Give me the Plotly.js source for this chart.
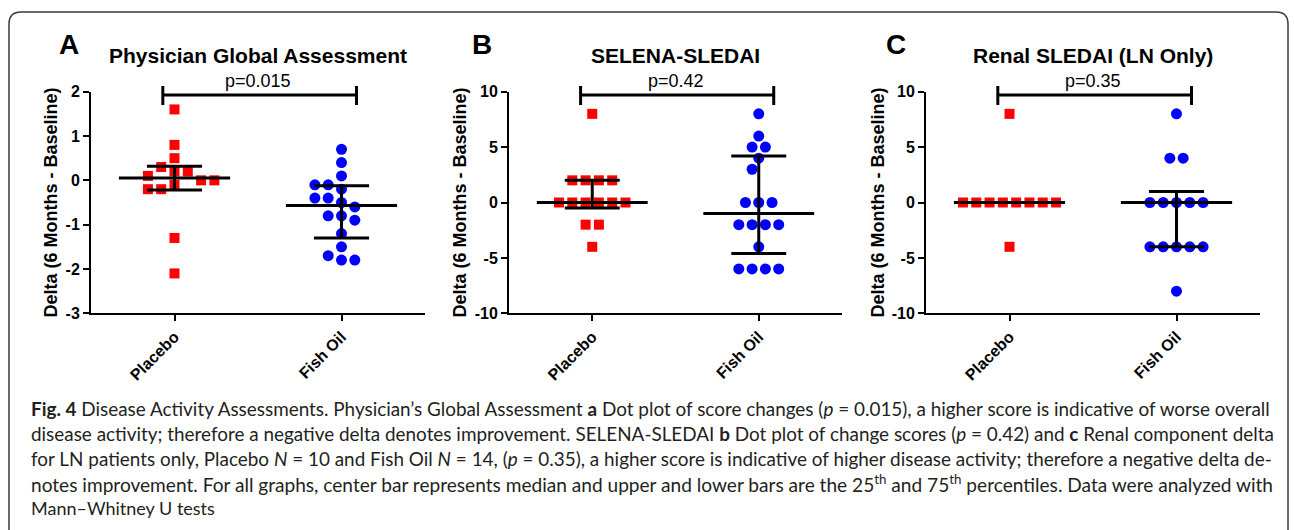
<!DOCTYPE html>
<html>
<head>
<meta charset="utf-8">
<script src="https://cdn.plot.ly/plotly-3.0.1.min.js"></script>
<style>
  html, body { margin: 0; padding: 0; background: #ffffff; }
  #chart { width: 1295px; height: 530px; }
</style>
</head>
<body>
<div id="chart"></div>
<script>
// ---------------- data ----------------
const categories = ['Placebo', 'Fish Oil'];
const panelLetters = ['A', 'B', 'C'];
const panelTitles = ['Physician Global Assessment', 'SELENA-SLEDAI', 'Renal SLEDAI (LN Only)'];
const pValueLabels = ['p=0.015', 'p=0.42', 'p=0.35'];
const yAxisTitle = 'Delta (6 Months - Baseline)';

const yTickValsA = [-3, -2, -1, 0, 1, 2];
const yTickTextA = ['-3', '-2', '-1', '0', '1', '2'];
const yTickValsBC = [-10, -5, 0, 5, 10];
const yTickTextBC = ['-10', '-5', '0', '5', '10'];
const yRangeA = [-3, 2];
const yRangeBC = [-10, 10];

// Panel A: Physician Global Assessment
const placeboA = [1.6, 0.8, 0.5, 0.3, 0.2, 0.2, 0.1, 0, 0, -0.1, -0.2, -0.2, -1.3, -2.1];
const fishOilA = [0.7, 0.4, 0.1, -0.1, -0.1, -0.2, -0.4, -0.4, -0.5, -0.6, -0.8, -0.8, -0.9, -1.2, -1.5, -1.7, -1.8, -1.8];
const medianA = [0.05, -0.57];
const q1A = [-0.22, -1.3];
const q3A = [0.32, -0.12];

// Panel B: SELENA-SLEDAI
const placeboB = [8, 2, 2, 2, 2, 0, 0, 0, 0, 0, 0, -2, -2, -4];
const fishOilB = [8, 6, 5, 5, 4, 3, 0, 0, 0, -2, -2, -2, -2, -4, -6, -6, -6, -6];
const medianB = [0, -1];
const q1B = [-0.5, -4.6];
const q3B = [2, 4.2];

// Panel C: Renal SLEDAI (LN only)
const placeboC = [8, 0, 0, 0, 0, 0, 0, 0, 0, -4];
const fishOilC = [8, 4, 4, 0, 0, 0, 0, 0, -4, -4, -4, -4, -4, -8];
const medianC = [0, 0];
const q1C = [0, -4];
const q3C = [0, 1];

const captionLines = [
  '<b>Fig. 4</b> Disease Activity Assessments. Physician\u2019s Global Assessment <b>a</b> Dot plot of score changes (<i>p</i> = 0.015), a higher score is indicative of worse overall',
  'disease activity; therefore a negative delta denotes improvement. SELENA-SLEDAI <b>b</b> Dot plot of change scores (<i>p</i> = 0.42) and <b>c</b> Renal component delta',
  'for LN patients only, Placebo <i>N</i> = 10 and Fish Oil <i>N</i> = 14, (<i>p</i> = 0.35), a higher score is indicative of higher disease activity; therefore a negative delta de-',
  'notes improvement. For all graphs, center bar represents median and upper and lower bars are the 25<sup>th</sup> and 75<sup>th</sup> percentiles. Data were analyzed with',
  'Mann\u2013Whitney U tests'
];

// ---------------- layout geometry ----------------
const W = 1295, H = 530;
const px2x = p => p / W;
const px2y = p => 1 - p / H;

const plotTop = 91.7, plotBottom = 313.3;
const panelX = [[91, 425], [509, 842], [926, 1260]];
const yTitleX = [51, 460, 878];
const letterX = [69, 482, 896];

const panels = [
  { placebo: placeboA, fish: fishOilA, med: medianA, q1: q1A, q3: q3A, range: yRangeA, tv: yTickValsA, tt: yTickTextA },
  { placebo: placeboB, fish: fishOilB, med: medianB, q1: q1B, q3: q3B, range: yRangeBC, tv: yTickValsBC, tt: yTickTextBC },
  { placebo: placeboC, fish: fishOilC, med: medianC, q1: q1C, q3: q3C, range: yRangeBC, tv: yTickValsBC, tt: yTickTextBC }
];

const FONT = 'Liberation Sans, Arial, Helvetica, sans-serif';
const CAP_FONT = 'Lato';
const SPACING_PX = 13.3; // centre-to-centre spacing of swarm points

// simple deterministic beeswarm: equal values are laid out as centred rows,
// rows are shifted sideways in half steps until they clear earlier points
function swarmOffsets(values, pxPerUnitY, pxPerCat) {
  const groups = [];
  const sorted = values.map((v, i) => ({ v, i })).sort((a, b) => b.v - a.v);
  sorted.forEach(p => {
    const g = groups.length ? groups[groups.length - 1] : null;
    if (g && Math.abs(g.v - p.v) < 1e-9) g.items.push(p.i);
    else groups.push({ v: p.v, items: [p.i] });
  });
  const half = SPACING_PX / 2;
  const placed = [];
  const out = new Array(values.length).fill(0);
  const candidates = [0];
  for (let k = 1; k < 40; k++) { candidates.push(-k, k); }
  groups.forEach(g => {
    const n = g.items.length;
    const dy = g.v * pxPerUnitY;
    for (const k of candidates) {
      const offs = g.items.map((_, j) => (k + 2 * j - (n - 1)) * half);
      const ok = offs.every(ox => placed.every(pp => Math.hypot(pp.x - ox, pp.y - dy) >= SPACING_PX * 0.95));
      if (ok) {
        offs.forEach((ox, j) => { placed.push({ x: ox, y: dy }); out[g.items[j]] = ox / pxPerCat; });
        break;
      }
    }
  });
  return out;
}

// measure a rich-text caption line (b / i / sup) with a canvas
const mctx = document.createElement('canvas').getContext('2d');
function measureRich(str, size) {
  let bold = false, ital = false, sup = false, w = 0;
  str.split(/(<\/?(?:b|i|sup)>)/).forEach(tok => {
    if (tok === '<b>') bold = true; else if (tok === '</b>') bold = false;
    else if (tok === '<i>') ital = true; else if (tok === '</i>') ital = false;
    else if (tok === '<sup>') sup = true; else if (tok === '</sup>') sup = false;
    else if (tok) {
      const s = sup ? size * 0.7 : size;
      mctx.font = `${ital ? 'italic ' : ''}${bold ? 'bold ' : ''}${s}px ${CAP_FONT}`;
      w += mctx.measureText(tok).width;
    }
  });
  return w;
}

const traces = [];
const layout = {
  width: W, height: H,
  margin: { l: 0, r: 0, t: 0, b: 0 },
  paper_bgcolor: '#ffffff', plot_bgcolor: '#ffffff',
  showlegend: false,
  font: { family: FONT, color: '#000000' },
  shapes: [], annotations: []
};

panels.forEach((P, idx) => {
  const suf = idx === 0 ? '' : String(idx + 1);
  const xa = 'x' + suf, ya = 'y' + suf;
  const xDom = [px2x(panelX[idx][0]), px2x(panelX[idx][1])];
  const yDom = [px2y(plotBottom), px2y(plotTop)];
  layout['xaxis' + suf] = {
    domain: xDom, range: [-0.5, 1.5], anchor: ya,
    tickvals: [0, 1], ticktext: categories, tickangle: -45,
    tickfont: { family: FONT, size: 16, weight: 'bold', color: '#000' },
    showline: true, linewidth: 2, linecolor: '#000',
    ticks: 'outside', ticklen: 6, tickwidth: 2, tickcolor: '#000',
    showgrid: false, zeroline: false, fixedrange: true
  };
  layout['yaxis' + suf] = {
    domain: yDom, range: P.range, anchor: xa,
    tickvals: P.tv, ticktext: P.tt,
    tickfont: { family: FONT, size: 16, weight: 'bold', color: '#000' },
    showline: true, linewidth: 2, linecolor: '#000',
    ticks: 'outside', ticklen: 6, tickwidth: 2, tickcolor: '#000',
    showgrid: false, zeroline: false, fixedrange: true
  };

  const pxPerUnitY = (plotBottom - plotTop) / (P.range[1] - P.range[0]);
  const pxPerCat = (panelX[idx][1] - panelX[idx][0]) / 2;

  const groupsData = [
    { vals: P.placebo, cat: 0, symbol: 'square', size: 10, color: '#ff0000' },
    { vals: P.fish, cat: 1, symbol: 'circle', size: 11, color: '#0000ff' }
  ];
  groupsData.forEach(G => {
    const offs = swarmOffsets(G.vals, pxPerUnitY, pxPerCat);
    traces.push({
      type: 'scatter', mode: 'markers', xaxis: xa, yaxis: ya,
      x: G.vals.map((_, i) => G.cat + offs[i]), y: G.vals,
      marker: { symbol: G.symbol, size: G.size, color: G.color, line: { width: 0 } },
      hoverinfo: 'y', cliponaxis: false
    });
  });

  // median and interquartile bars
  const lx = [], ly = [];
  [0, 1].forEach(c => {
    lx.push(c - 0.333, c + 0.333, null); ly.push(P.med[c], P.med[c], null);
    lx.push(c - 0.165, c + 0.165, null); ly.push(P.q1[c], P.q1[c], null);
    lx.push(c - 0.165, c + 0.165, null); ly.push(P.q3[c], P.q3[c], null);
    lx.push(c, c, null); ly.push(P.q1[c], P.q3[c], null);
  });
  traces.push({
    type: 'scatter', mode: 'lines', xaxis: xa, yaxis: ya,
    x: lx, y: ly, line: { color: '#000', width: 3 }, hoverinfo: 'skip', cliponaxis: false
  });

  // significance bracket
  const bx0 = -0.07, bx1 = 1.09;
  const by = px2y(95), byTop = px2y(86), byBot = px2y(105);
  layout.shapes.push(
    { type: 'line', xref: xa, yref: 'paper', x0: bx0, x1: bx1, y0: by, y1: by, line: { color: '#000', width: 3 } },
    { type: 'line', xref: xa, yref: 'paper', x0: bx0, x1: bx0, y0: byTop, y1: byBot, line: { color: '#000', width: 3 } },
    { type: 'line', xref: xa, yref: 'paper', x0: bx1, x1: bx1, y0: byTop, y1: byBot, line: { color: '#000', width: 3 } }
  );

  const cx = px2x((panelX[idx][0] + panelX[idx][1]) / 2);
  layout.annotations.push(
    { xref: xa, yref: 'paper', x: 0.5, y: px2y(81), text: pValueLabels[idx], showarrow: false,
      xanchor: 'center', yanchor: 'middle', font: { family: FONT, size: 18, color: '#000' } },
    { xref: 'paper', yref: 'paper', x: cx, y: px2y(56), text: panelTitles[idx], showarrow: false,
      xanchor: 'center', yanchor: 'middle', font: { family: FONT, size: 21, weight: 'bold', color: '#000' } },
    { xref: 'paper', yref: 'paper', x: px2x(letterX[idx]), y: px2y(45), text: panelLetters[idx], showarrow: false,
      xanchor: 'center', yanchor: 'middle', font: { family: FONT, size: 28, weight: 'bold', color: '#000' } },
    { xref: 'paper', yref: 'paper', x: px2x(yTitleX[idx]), y: px2y((plotTop + plotBottom) / 2), text: yAxisTitle,
      textangle: -90, showarrow: false, xanchor: 'center', yanchor: 'middle',
      font: { family: FONT, size: 18, weight: 'bold', color: '#000' } }
  );
});

// caption: one annotation per line; each full line is sized to span the text block (justified look)
const captionY = [408, 433, 458, 483, 508];
const capLeft = 29, capRight = 1273;
const widths16 = captionLines.map(t => measureRich(t, 16));
const fullLines = widths16.slice(0, captionLines.length - 1);
const baseSize = Math.min(18, 16 * (capRight - capLeft) / Math.max(...fullLines));
captionLines.forEach((t, i) => {
  let size = baseSize;
  if (i < captionLines.length - 1) {
    const fit = 16 * (capRight - capLeft) / widths16[i];
    size = Math.max(baseSize * 0.94, Math.min(baseSize * 1.06, fit));
  }
  layout.annotations.push({
    xref: 'paper', yref: 'paper', x: px2x(capLeft), y: px2y(captionY[i]), text: t, showarrow: false,
    xanchor: 'left', yanchor: 'middle', align: 'left',
    font: { family: CAP_FONT + ', Open Sans, sans-serif', size: Math.round(size * 10) / 10, color: '#231f20' }
  });
});

// outer rounded frame
(function () {
  const l = 9, r = 1288, t = 12, b = 560, rad = 12;
  const X = px2x, Y = px2y;
  const path = `M ${X(l)},${Y(b)} L ${X(l)},${Y(t + rad)} Q ${X(l)},${Y(t)} ${X(l + rad)},${Y(t)} ` +
    `L ${X(r - rad)},${Y(t)} Q ${X(r)},${Y(t)} ${X(r)},${Y(t + rad)} L ${X(r)},${Y(b)}`;
  layout.shapes.push({ type: 'path', xref: 'paper', yref: 'paper', path, line: { color: '#3a3a3a', width: 1.5 } });
})();

Plotly.newPlot('chart', traces, layout, { staticPlot: true, displayModeBar: false });
</script>
</body>
</html>
